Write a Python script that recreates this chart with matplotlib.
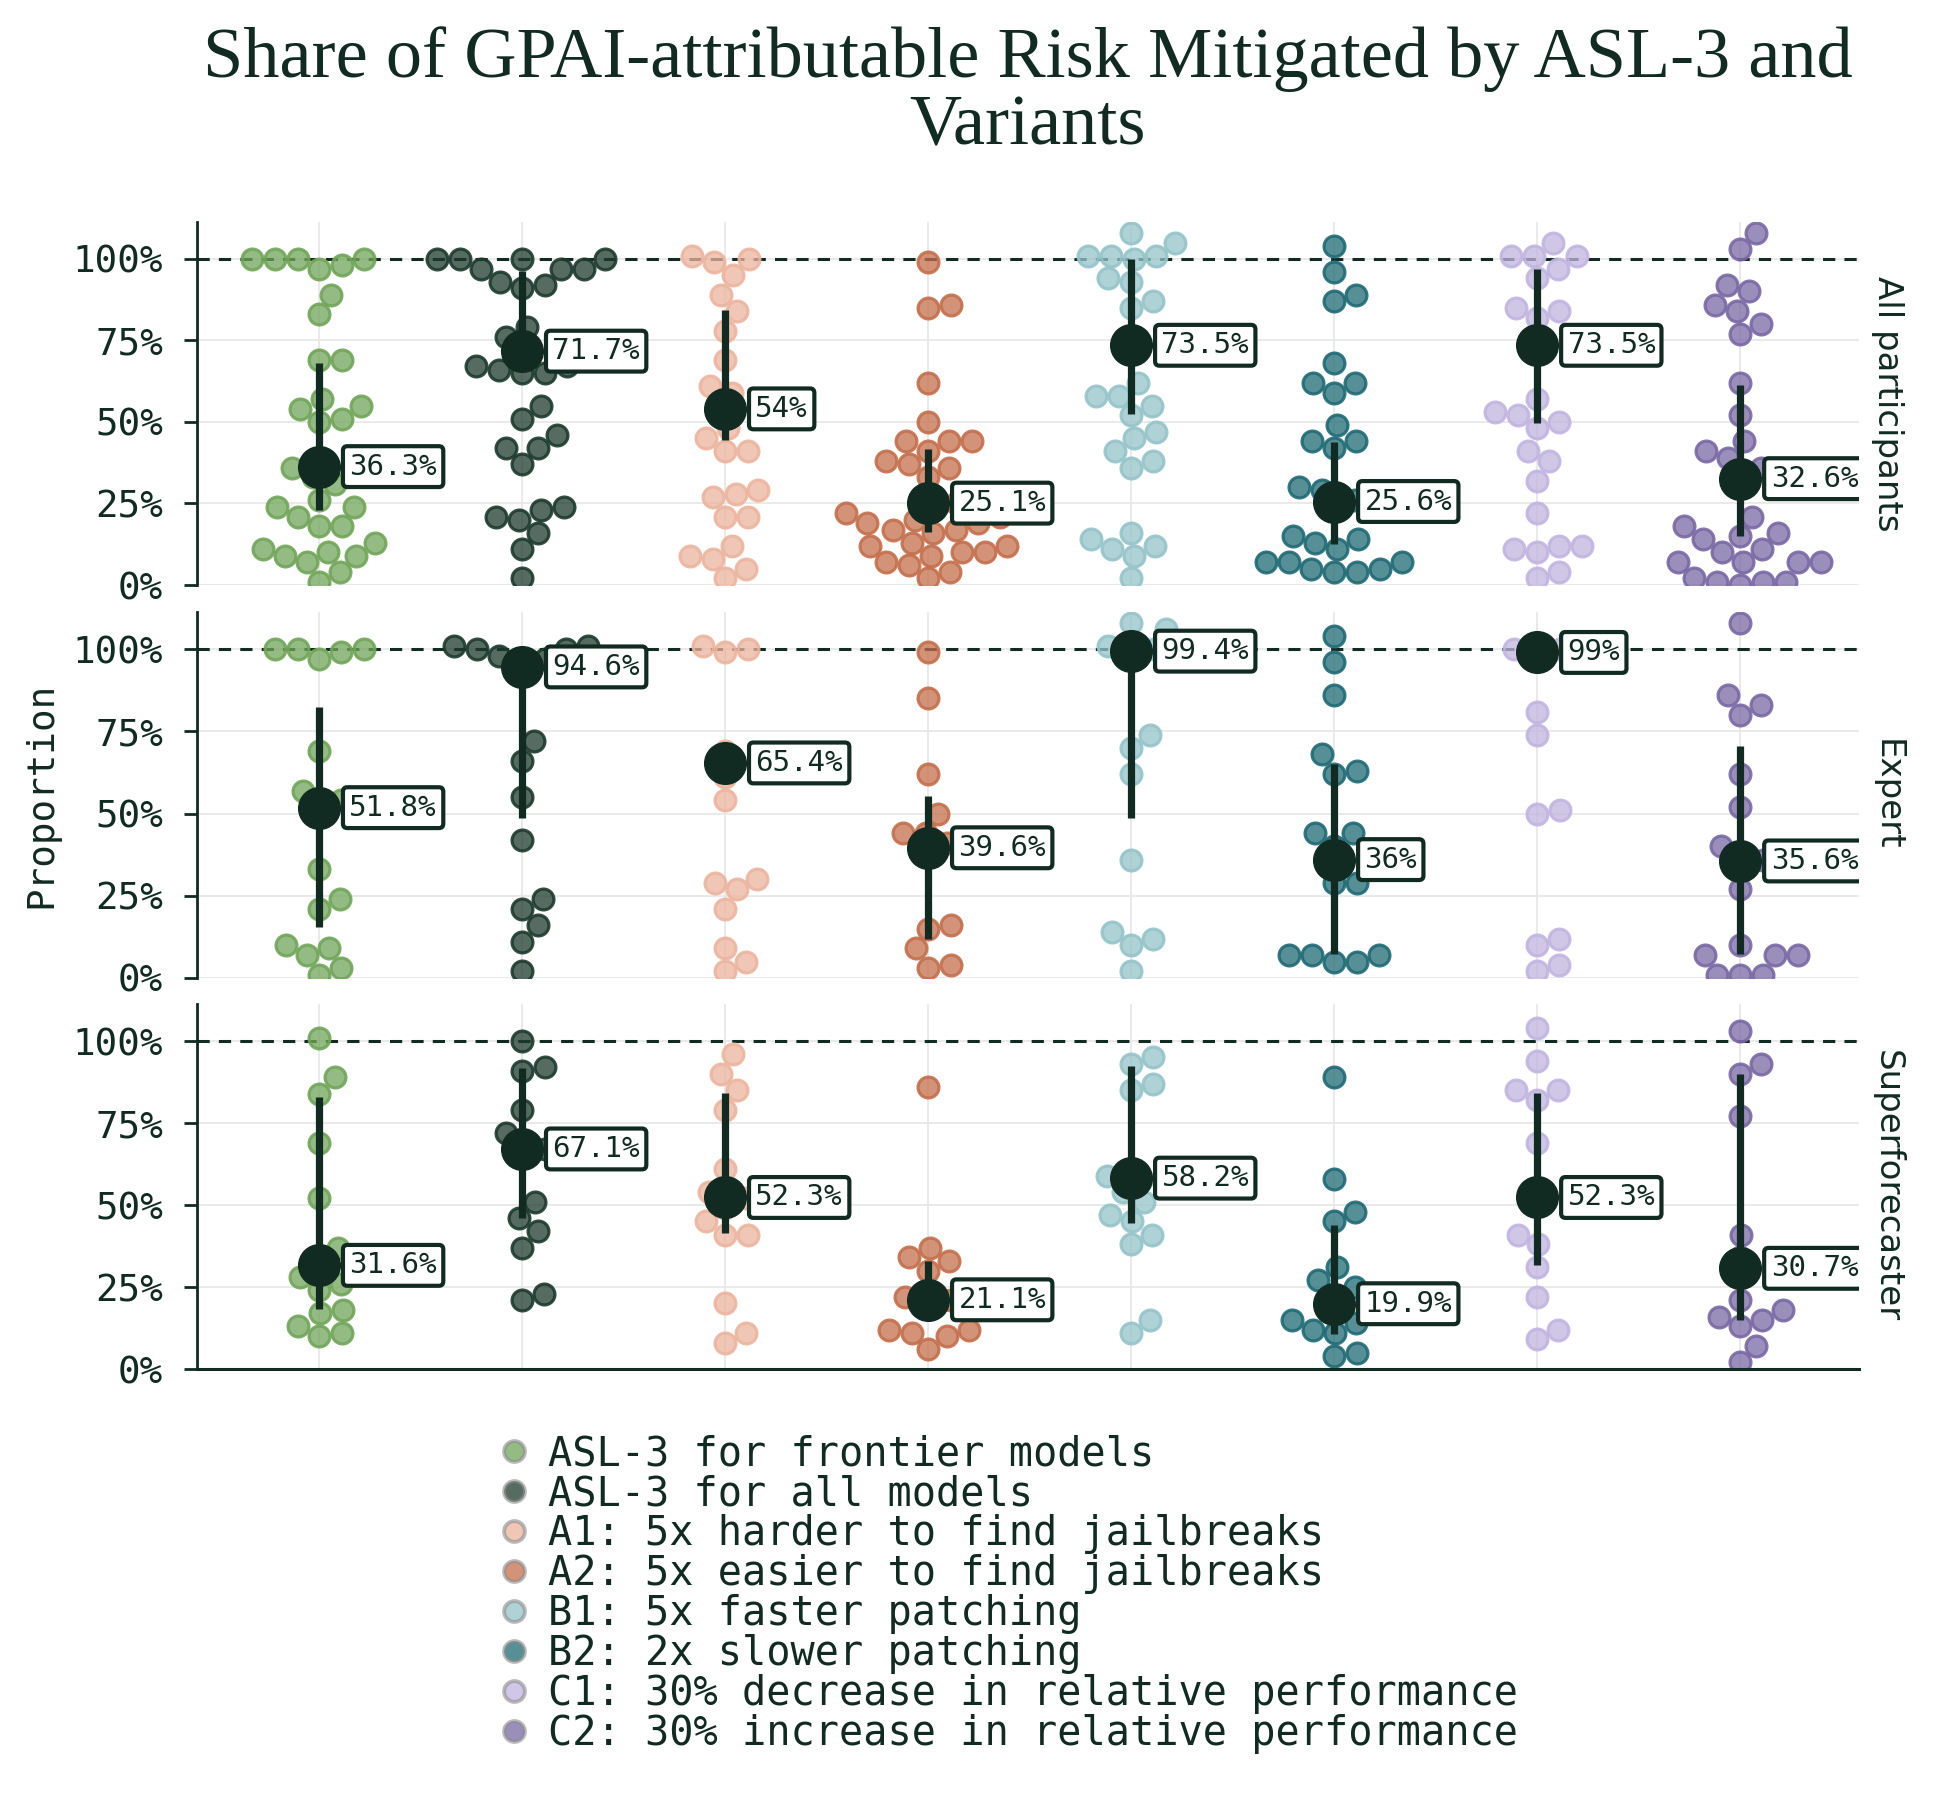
import numpy as np
import matplotlib
matplotlib.use("Agg")
import matplotlib.pyplot as plt
from matplotlib.lines import Line2D
from matplotlib.ticker import FixedLocator, FuncFormatter

# ---------------- data ----------------
VARIANTS = [
    "ASL-3 for frontier models",
    "ASL-3 for all models",
    "A1: 5x harder to find jailbreaks",
    "A2: 5x easier to find jailbreaks",
    "B1: 5x faster patching",
    "B2: 2x slower patching",
    "C1: 30% decrease in relative performance",
    "C2: 30% increase in relative performance",
]
PANELS = ["All participants", "Expert", "Superforecaster"]
COLORS = ["#71a559", "#1d3a2e", "#ecb59f", "#c46f4c",
          "#95c4c9", "#1f6a74", "#c1b5e0", "#7968a4"]

# individual responses (percent)
ALL_POINTS = [
    [100, 100, 100, 100, 98, 97, 89, 83, 69, 69, 57, 55, 54, 51, 50, 36, 33, 31, 26, 24, 24, 21, 18, 18, 13, 11, 10, 9, 9, 7, 4, 1],
    [100, 100, 100, 100, 97, 97, 97, 93, 92, 91, 79, 76, 72, 70, 67, 67, 66, 65, 65, 55, 51, 46, 42, 42, 37, 24, 23, 21, 20, 16, 11, 2],
    [101, 100, 99, 95, 89, 84, 78, 69, 61, 59, 54, 48, 45, 41, 41, 29, 28, 27, 21, 21, 12, 9, 8, 5, 2],
    [99, 86, 85, 62, 50, 44, 44, 44, 41, 38, 37, 36, 33, 25, 24, 22, 21, 20, 19, 19, 17, 17, 16, 13, 12, 12, 10, 10, 9, 7, 6, 4, 2],
    [108, 105, 101, 101, 101, 100, 94, 93, 87, 85, 62, 58, 58, 55, 52, 47, 45, 41, 38, 36, 16, 14, 12, 11, 9, 2],
    [104, 96, 89, 87, 68, 62, 62, 59, 49, 44, 44, 42, 30, 29, 26, 23, 15, 14, 13, 11, 7, 7, 7, 5, 5, 4, 4],
    [105, 101, 101, 101, 97, 94, 85, 84, 82, 57, 53, 52, 50, 48, 41, 38, 32, 22, 12, 12, 11, 10, 4, 2],
    [108, 103, 92, 90, 86, 84, 80, 77, 62, 52, 44, 41, 39, 36, 33, 21, 18, 16, 15, 14, 11, 10, 7, 7, 7, 7, 2, 1, 1, 1, 0],
]
EXPERT_POINTS = [
    [100, 100, 100, 99, 97, 69, 57, 54, 52, 33, 24, 21, 10, 9, 7, 3, 1],
    [101, 101, 100, 100, 98, 97, 97, 72, 66, 55, 42, 24, 21, 16, 11, 2],
    [101, 100, 99, 69, 61, 54, 30, 29, 27, 21, 9, 5, 2],
    [99, 85, 62, 50, 44, 44, 41, 37, 16, 15, 9, 4, 3],
    [108, 106, 101, 100, 100, 74, 70, 62, 36, 14, 12, 10, 2],
    [104, 96, 86, 68, 62, 63, 44, 44, 40, 29, 29, 7, 7, 7, 5, 5],
    [101, 100, 100, 99, 81, 74, 50, 51, 12, 10, 4, 2],
    [108, 86, 83, 80, 62, 52, 40, 36, 36, 27, 10, 7, 7, 7, 1, 1, 1],
]
SUPER_POINTS = [
    [101, 89, 84, 69, 52, 37, 33, 28, 26, 24, 18, 17, 13, 11, 10],
    [100, 91, 92, 79, 72, 67, 67, 51, 46, 42, 37, 21, 23],
    [96, 90, 85, 79, 61, 54, 52, 49, 45, 41, 41, 20, 11, 8],
    [86, 37, 34, 33, 30, 22, 21, 21, 12, 12, 11, 10, 6],
    [95, 93, 87, 85, 59, 58, 54, 51, 47, 45, 41, 38, 15, 11],
    [89, 58, 48, 45, 31, 27, 25, 22, 15, 14, 12, 11, 5, 4],
    [104, 94, 85, 85, 82, 69, 52, 41, 38, 31, 22, 12, 9],
    [103, 93, 90, 77, 41, 34, 21, 18, 16, 15, 13, 7, 2],
]

# summary point and interval per variant (percent)
ALL_CENTER = [36.3, 71.7, 54, 25.1, 73.5, 25.6, 73.5, 32.6]
ALL_LOW = [23, 67, 44.6, 16.4, 52.5, 12.5, 49.7, 14.9]
ALL_HIGH = [68, 96.3, 84.2, 41.8, 100, 43.9, 97, 61.3]
EXPERT_CENTER = [51.8, 94.6, 65.4, 39.6, 99.4, 36, 99, 35.6]
EXPERT_LOW = [15.4, 48.8, 63, 11.8, 48.7, 7.2, 97, 7.2]
EXPERT_HIGH = [82.5, 97, 68, 55.3, 100, 65.1, 100, 70.7]
SUPER_CENTER = [31.6, 67.1, 52.3, 21.1, 58.2, 19.9, 52.3, 30.7]
SUPER_LOW = [18.4, 46.1, 41.5, 18, 44.6, 10.8, 31.8, 14.9]
SUPER_HIGH = [83, 91.8, 84.3, 33, 92.5, 43.9, 84.3, 90]

Y_TICKS = [0, 25, 50, 75, 100]

PANEL_POINTS = [ALL_POINTS, EXPERT_POINTS, SUPER_POINTS]
PANEL_CENTER = [ALL_CENTER, EXPERT_CENTER, SUPER_CENTER]
PANEL_LOW = [ALL_LOW, EXPERT_LOW, SUPER_LOW]
PANEL_HIGH = [ALL_HIGH, EXPERT_HIGH, SUPER_HIGH]

# ---------------- style ----------------
DARK = "#112b22"
GRID = "#e8e8e8"
MONO = "DejaVu Sans Mono"
SERIF = "Liberation Serif"
SANS = "DejaVu Sans"

W, H, DPI = 19.5, 18.0, 100
fig = plt.figure(figsize=(W, H), dpi=DPI)

AX_LEFT, AX_RIGHT = 197, 1859
PANEL_PX = [(222, 585), (612, 978), (1004, 1369)]
XLIM = (-0.60, 7.586)
YLIM = (0, 111.3)

def swarm_offsets(vals, d_px, xscale, yscale):
    ys = np.asarray(vals, float) * yscale
    order = np.argsort(ys, kind="stable")
    px_l, py_l = [], []
    out = np.zeros(len(ys))
    for i in order:
        y = ys[i]
        cands = [0.0]
        for px, py in zip(px_l, py_l):
            dy = abs(y - py)
            if dy < d_px:
                dx = np.sqrt(d_px ** 2 - dy ** 2)
                cands += [px + dx, px - dx]
        cands = sorted(set(cands), key=lambda c: (abs(c), -c))
        chosen = cands[-1]
        for c in cands:
            if all((c - px) ** 2 + (y - py) ** 2 >= d_px ** 2 - 1e-6
                   for px, py in zip(px_l, py_l)):
                chosen = c
                break
        px_l.append(chosen)
        py_l.append(y)
        out[i] = chosen / xscale
    return out

axes = []
for p, (top, bot) in enumerate(PANEL_PX):
    ax = fig.add_axes([AX_LEFT / (W * DPI), 1 - bot / (H * DPI),
                       (AX_RIGHT - AX_LEFT) / (W * DPI), (bot - top) / (H * DPI)])
    axes.append(ax)
    ax.set_xlim(*XLIM)
    ax.set_ylim(*YLIM)
    ax_h_px = bot - top
    ax_w_px = AX_RIGHT - AX_LEFT
    xscale = ax_w_px / (XLIM[1] - XLIM[0])
    yscale = ax_h_px / (YLIM[1] - YLIM[0])

    ax.set_axisbelow(True)
    ax.yaxis.set_major_locator(FixedLocator(Y_TICKS))
    ax.yaxis.set_major_formatter(FuncFormatter(lambda v, pos: f"{v:.0f}%"))
    ax.set_xticks(range(len(VARIANTS)))
    ax.tick_params(axis="x", length=0, labelbottom=False)
    ax.tick_params(axis="y", length=9.5, width=2, pad=15, labelsize=27,
                   colors=DARK)
    for lab in ax.get_yticklabels():
        lab.set_fontfamily(MONO)
    ax.grid(True, color=GRID, lw=1.3)
    for s in ["top", "right"]:
        ax.spines[s].set_visible(False)
    ax.spines["left"].set_color(DARK)
    ax.spines["left"].set_linewidth(2)
    if p < 2:
        ax.spines["bottom"].set_visible(False)
    else:
        ax.spines["bottom"].set_color(DARK)
        ax.spines["bottom"].set_linewidth(2.2)

    ax.axhline(100, color=DARK, lw=2.2, ls=(0, (4, 3)), zorder=1.5)

    pts = PANEL_POINTS[p]
    for i, vals in enumerate(pts):
        offs = swarm_offsets(vals, 23.0, xscale, yscale)
        col = matplotlib.colors.to_rgb(COLORS[i])
        ax.scatter(i + offs, vals, s=225, marker="o",
                   facecolor=(*col, 0.75), edgecolor=(*col, 0.9),
                   linewidth=2.3, zorder=2)

    for i in range(len(VARIANTS)):
        c = PANEL_CENTER[p][i]
        ax.vlines(i, PANEL_LOW[p][i], PANEL_HIGH[p][i], color=DARK, lw=5.2,
                  zorder=4)
        ax.plot([i], [c], "o", ms=30, color=DARK, zorder=5)
        t = ax.annotate(f"{c:g}%", xy=(i, c), xytext=(22, 0),
                        textcoords="offset points", ha="left", va="center",
                        fontsize=21, family=MONO, color=DARK, zorder=6,
                        bbox=dict(boxstyle="round,pad=0.22,rounding_size=0.15",
                                  fc="white", ec=DARK, lw=3))
        t.set_clip_path(ax.patch)

    ax.text(1.007, 0.5, PANELS[p], transform=ax.transAxes, rotation=270,
            ha="left", va="center", fontsize=24.5, family=SANS, color=DARK)

fig.text(41 / (W * DPI), 1 - 795 / (H * DPI), "Proportion", rotation=90,
         ha="center", va="center", fontsize=27, family=MONO, color=DARK)

fig.text((AX_LEFT + AX_RIGHT) / 2 / (W * DPI), 1 - 26 / (H * DPI),
         "Share of GPAI-attributable Risk Mitigated by ASL-3 and\nVariants",
         ha="center", va="top", fontsize=52, family=SERIF, color=DARK,
         linespacing=1.05)

handles = []
for i, name in enumerate(VARIANTS):
    col = matplotlib.colors.to_rgb(COLORS[i])
    handles.append(Line2D([], [], ls="none", marker="o", ms=15,
                          mfc=(*col, 0.75), mec=(0.55, 0.55, 0.55, 0.6),
                          mew=2.8, label=name))
leg = fig.legend(handles=handles, loc="upper left",
                 bbox_to_anchor=(498 / (W * DPI), 1 - 1434 / (H * DPI)),
                 frameon=False, prop={"family": MONO, "size": 29},
                 labelspacing=0.0, handlelength=0.8, handletextpad=0.45,
                 borderpad=0, borderaxespad=0)
for txt in leg.get_texts():
    txt.set_color(DARK)

fig.savefig("out.png", dpi=DPI)
